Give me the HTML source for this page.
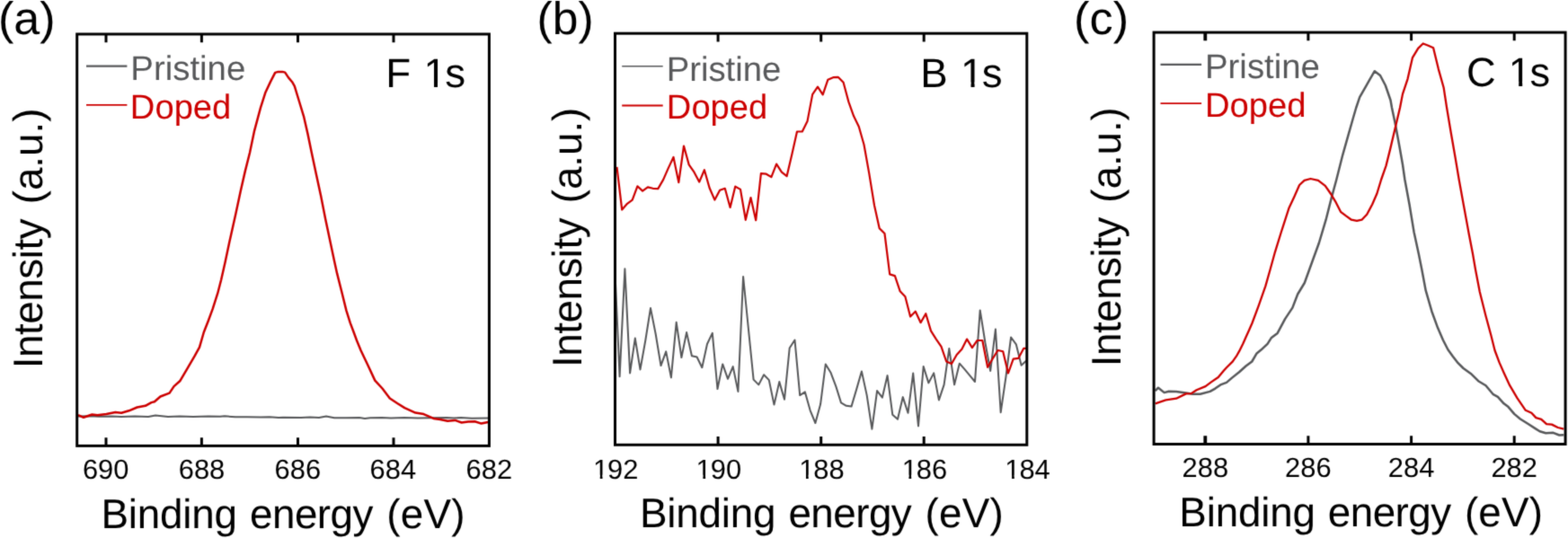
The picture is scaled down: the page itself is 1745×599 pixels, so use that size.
<!DOCTYPE html>
<html lang="en">
<head>
<meta charset="utf-8">
<title>XPS spectra: F 1s, B 1s, C 1s</title>
<style>
html,body{margin:0;padding:0;background:#fff;}
body{width:1745px;height:599px;overflow:hidden;}
svg{display:block;font-family:"Liberation Sans",Arial,Helvetica,sans-serif;text-rendering:geometricPrecision;}
.frame{fill:none;stroke:#000;}
.tick{stroke:#000;fill:none;}
.cv{fill:none;stroke-linejoin:round;stroke-linecap:butt;}
</style>
</head>
<body>
<svg width="1745" height="599" viewBox="0 0 1745 599">
<defs><filter id="soft" x="0" y="0" width="1745" height="599" filterUnits="userSpaceOnUse" color-interpolation-filters="sRGB"><feConvolveMatrix order="3" kernelMatrix="0.0192 0.1001 0.0192 0.1001 0.5228 0.1001 0.0192 0.1001 0.0192" divisor="1" bias="0" edgeMode="duplicate" preserveAlpha="true"/></filter></defs>
<rect x="0" y="0" width="1745" height="599" fill="#ffffff"/>
<g filter="url(#soft)">
<rect x="0" y="0" width="1745" height="599" fill="#ffffff"/>
<g id="panel-a">
<clipPath id="clip-a"><rect x="85.7" y="38.0" width="458.7" height="458.4"/></clipPath>
<g clip-path="url(#clip-a)">
<polyline class="cv" stroke="#57585a" stroke-width="2.00" points="87.0,463.5 100.0,463.3 110.0,463.8 125.0,463.4 135.0,464.0 150.0,463.6 165.0,463.9 173.0,462.5 180.0,463.2 187.0,464.0 200.0,463.6 215.0,464.0 232.0,463.4 245.0,463.8 250.0,463.3 262.0,464.3 275.0,464.3 290.0,464.6 300.0,464.3 310.0,464.9 315.0,464.8 335.0,465.0 345.0,464.5 355.0,464.9 363.0,463.6 372.0,465.3 385.0,465.3 400.0,465.1 406.0,466.0 412.0,465.3 425.0,465.1 435.0,465.5 450.0,465.0 465.0,465.5 480.0,465.3 497.0,465.0 505.0,465.6 513.0,465.0 525.0,465.8 543.0,465.6"/>
<polyline class="cv" stroke="#cc0000" stroke-width="2.50" points="87.0,462.2 93.0,464.8 102.5,461.5 108.4,462.3 118.4,461.0 128.4,459.0 135.1,459.8 143.5,457.3 152.6,453.5 161.8,451.8 168.5,448.1 171.9,447.3 178.5,441.5 188.6,437.6 193.6,430.1 200.2,424.3 208.6,410.1 216.9,395.9 222.0,386.7 226.8,370.0 231.6,357.7 236.7,343.9 242.2,326.7 246.2,311.3 250.5,292.3 255.2,270.0 262.2,238.8 267.7,213.0 272.8,190.6 278.0,170.0 283.1,145.6 290.0,119.9 295.5,102.7 301.2,90.6 306.2,80.9 309.6,79.9 314.4,79.9 317.2,80.6 321.0,86.4 325.1,91.2 327.8,95.8 333.0,113.0 338.2,130.2 342.5,149.1 346.8,170.0 351.9,194.1 357.1,218.1 362.2,243.9 367.7,270.0 371.7,288.9 375.1,304.4 380.3,325.0 385.4,345.6 389.7,359.4 393.7,370.0 397.1,379.2 401.6,390.2 409.0,405.8 417.3,423.6 425.5,432.5 433.8,443.5 442.1,449.0 450.3,454.1 462.3,459.6 471.5,461.1 482.5,465.9 489.8,467.0 498.1,468.8 506.4,467.9 513.7,470.5 521.0,469.6 528.4,469.2 535.7,471.6 543.1,470.1"/>
</g>
<path class="tick" stroke-width="3.00" d="M118.0 38.0V47.2M118.0 496.4V487.2M224.4 38.0V47.2M224.4 496.4V487.2M331.5 38.0V47.2M331.5 496.4V487.2M438.0 38.0V47.2M438.0 496.4V487.2"/>
<rect class="frame" stroke-width="3.00" x="85.7" y="38.0" width="458.7" height="458.4"/>
<g class="tl" transform="translate(91.92 533) scale(1.0100 1)"><text font-size="30.6" x="0" y="0">690</text></g>
<g class="tl" transform="translate(198.72 533) scale(1.0100 1)"><text font-size="30.6" x="0" y="0">688</text></g>
<g class="tl" transform="translate(305.62 533) scale(1.0100 1)"><text font-size="30.6" x="0" y="0">686</text></g>
<g class="tl" transform="translate(411.62 533) scale(1.0100 1)"><text font-size="30.6" x="0" y="0">684</text></g>
<g class="tl" transform="translate(518.62 533) scale(1.0100 1)"><text font-size="30.6" x="0" y="0">682</text></g>
<g class="ax" transform="translate(112.44 587.85) scale(0.9962 1)"><text font-size="46" x="0" y="0" xml:space="preserve"><tspan x="0" letter-spacing="-0.201">Binding </tspan><tspan x="166.23" letter-spacing="-0.542">energy </tspan><tspan x="319.06" letter-spacing="0.201">(eV)</tspan></text></g>
<g class="ax" transform="translate(47.2 406.1) rotate(-90) translate(-4.22 0) scale(0.9942 1)"><text font-size="46" x="0" y="0" xml:space="preserve"><tspan x="0" letter-spacing="-0.427">Intensity </tspan><tspan x="184.09" letter-spacing="0.000">(a.u.)</tspan></text></g>
<g class="pl" transform="translate(-2.03 38) scale(1.0213 1)"><text font-size="51" x="0" y="0">(a)</text></g>
<g class="tt" transform="translate(429.25 97.4) scale(1.0047 1)"><clipPath id="one-1"><path clip-rule="evenodd" d="M-400 -200H1200V200H-400ZM43.49 -5.4H53.47V3H43.49ZM57.49 -5.4H67.11V3H57.49Z"/></clipPath><text clip-path="url(#one-1)" font-size="45.5" x="0" y="0">F <tspan dx="1.59">1</tspan><tspan dx="-1.59">s</tspan></text></g>
<g class="lg" transform="translate(145.35 88.7) scale(1.0045 1)"><text fill="#57585a" font-size="38.2" x="0" y="0">Pristine</text></g>
<g class="lg" transform="translate(144.87 131.9) scale(0.9993 1)"><text fill="#cc0000" font-size="38.2" x="0" y="0">Doped</text></g>
<line x1="96.0" y1="73.6" x2="141.4" y2="73.6" stroke="#57585a" stroke-width="2.20"/>
<line x1="96.0" y1="116.8" x2="141.4" y2="116.8" stroke="#cc0000" stroke-width="1.80"/>
</g>
<g id="panel-b">
<clipPath id="clip-b"><rect x="684.5" y="37.2" width="458.3" height="458.1"/></clipPath>
<g clip-path="url(#clip-b)">
<polyline class="cv" stroke="#57585a" stroke-width="2.00" points="683.9,290.0 689.6,419.2 695.4,299.2 701.1,415.4 706.8,376.6 712.5,411.4 718.3,379.0 724.0,343.1 729.7,372.0 735.5,407.1 741.2,391.4 746.9,420.4 752.7,358.8 758.4,398.0 764.1,370.1 769.9,396.2 775.6,397.5 781.3,409.2 787.0,383.0 792.8,370.9 798.5,433.1 804.2,405.4 810.0,421.8 815.7,408.1 821.4,435.9 827.1,308.0 832.9,366.0 838.6,422.6 844.3,428.4 850.1,417.2 855.8,423.1 861.5,450.6 867.3,425.1 873.0,444.7 878.7,387.5 884.5,378.5 890.2,440.1 895.9,436.4 901.6,456.8 907.4,471.0 913.1,450.1 918.8,405.4 924.6,415.1 930.3,430.1 936.0,448.4 941.8,451.8 947.5,452.6 953.2,433.4 958.9,413.4 964.7,440.1 970.4,477.7 976.1,435.1 981.9,442.6 987.6,418.1 993.3,461.8 999.0,466.8 1004.8,442.1 1010.5,459.8 1016.2,415.6 1022.0,474.3 1027.7,408.0 1033.4,426.4 1039.2,415.4 1044.9,445.4 1050.6,428.4 1056.3,388.1 1062.1,428.3 1067.8,404.7 1073.5,411.2 1079.3,418.1 1085.0,425.0 1090.7,345.4 1096.5,382.0 1102.2,413.0 1107.9,366.6 1113.7,459.2 1119.4,420.0 1125.1,375.5 1130.8,383.3 1136.6,406.7 1142.3,401.5"/>
<polyline class="cv" stroke="#cc0000" stroke-width="2.20" points="686.5,185.9 692.2,233.5 698.0,226.8 703.7,222.6 709.4,207.3 715.1,212.6 720.9,208.4 726.6,209.8 732.3,210.1 738.1,200.1 743.8,187.1 749.5,175.0 755.3,203.1 761.0,162.5 766.7,183.4 772.5,191.7 778.2,202.6 783.9,189.2 789.6,209.3 795.4,222.6 801.1,211.8 806.8,209.8 812.6,231.0 818.3,207.6 824.0,210.9 829.8,244.8 835.5,220.1 841.2,245.2 846.9,193.1 852.7,193.7 858.4,197.1 864.1,182.6 869.9,191.7 875.6,196.2 881.3,172.0 887.0,146.5 892.8,146.5 898.5,135.1 904.2,105.1 910.0,96.7 915.7,105.4 921.4,88.7 927.2,86.2 932.9,85.9 938.6,91.7 944.4,113.4 950.1,129.3 955.8,141.0 961.5,161.0 967.3,193.4 973.0,228.5 978.7,254.2 984.5,260.0 990.2,305.4 995.9,307.1 1001.7,324.3 1007.4,330.2 1013.1,352.5 1018.8,346.7 1024.6,359.2 1030.3,349.2 1036.0,368.4 1041.8,377.6 1047.5,385.9 1053.2,402.5 1059.0,405.0 1064.7,395.0 1070.4,388.8 1076.1,377.6 1081.9,387.1 1087.6,379.0 1093.3,379.0 1099.1,408.8 1104.8,399.2 1110.5,390.0 1116.2,391.3 1122.0,415.5 1127.7,399.6 1133.4,398.8 1139.2,387.9 1144.9,387.9"/>
</g>
<path class="tick" stroke-width="3.00" d="M799.1 37.2V46.4M799.1 495.3V486.1M913.7 37.2V46.4M913.7 495.3V486.1M1028.2 37.2V46.4M1028.2 495.3V486.1"/>
<rect class="frame" stroke-width="3.00" x="684.5" y="37.2" width="458.3" height="458.1"/>
<g class="tl" transform="translate(658.92 533) scale(1.0100 1)"><clipPath id="one-2"><path clip-rule="evenodd" d="M-400 -200H1200V200H-400ZM1.4 -4.29H8.77V3H1.4ZM11.47 -4.29H18.6V3H11.47Z"/></clipPath><text clip-path="url(#one-2)" font-size="30.6" x="0" y="0"><tspan dx="1.07">1</tspan><tspan dx="-1.07">92</tspan></text></g>
<g class="tl" transform="translate(773.52 533) scale(1.0100 1)"><clipPath id="one-3"><path clip-rule="evenodd" d="M-400 -200H1200V200H-400ZM1.4 -4.29H8.77V3H1.4ZM11.47 -4.29H18.6V3H11.47Z"/></clipPath><text clip-path="url(#one-3)" font-size="30.6" x="0" y="0"><tspan dx="1.07">1</tspan><tspan dx="-1.07">90</tspan></text></g>
<g class="tl" transform="translate(888.12 533) scale(1.0100 1)"><clipPath id="one-4"><path clip-rule="evenodd" d="M-400 -200H1200V200H-400ZM1.4 -4.29H8.77V3H1.4ZM11.47 -4.29H18.6V3H11.47Z"/></clipPath><text clip-path="url(#one-4)" font-size="30.6" x="0" y="0"><tspan dx="1.07">1</tspan><tspan dx="-1.07">88</tspan></text></g>
<g class="tl" transform="translate(1002.62 533) scale(1.0100 1)"><clipPath id="one-5"><path clip-rule="evenodd" d="M-400 -200H1200V200H-400ZM1.4 -4.29H8.77V3H1.4ZM11.47 -4.29H18.6V3H11.47Z"/></clipPath><text clip-path="url(#one-5)" font-size="30.6" x="0" y="0"><tspan dx="1.07">1</tspan><tspan dx="-1.07">86</tspan></text></g>
<g class="tl" transform="translate(1117.22 533) scale(1.0100 1)"><clipPath id="one-6"><path clip-rule="evenodd" d="M-400 -200H1200V200H-400ZM1.4 -4.29H8.77V3H1.4ZM11.47 -4.29H18.6V3H11.47Z"/></clipPath><text clip-path="url(#one-6)" font-size="30.6" x="0" y="0"><tspan dx="1.07">1</tspan><tspan dx="-1.07">84</tspan></text></g>
<g class="ax" transform="translate(711.89 587) scale(0.9957 1)"><text font-size="46" x="0" y="0" xml:space="preserve"><tspan x="0" letter-spacing="-0.201">Binding </tspan><tspan x="166.23" letter-spacing="-0.542">energy </tspan><tspan x="319.06" letter-spacing="0.201">(eV)</tspan></text></g>
<g class="ax" transform="translate(646.5 404.9) rotate(-90) translate(-4.22 0) scale(0.9931 1)"><text font-size="46" x="0" y="0" xml:space="preserve"><tspan x="0" letter-spacing="-0.428">Intensity </tspan><tspan x="184.09" letter-spacing="0.000">(a.u.)</tspan></text></g>
<g class="pl" transform="translate(597.6 38) scale(1.0106 1)"><text font-size="51" x="0" y="0">(b)</text></g>
<g class="tt" transform="translate(1024.36 96.8) scale(1.0027 1)"><clipPath id="one-7"><path clip-rule="evenodd" d="M-400 -200H1200V200H-400ZM46.05 -5.4H56.02V3H46.05ZM60.04 -5.4H69.67V3H60.04Z"/></clipPath><text clip-path="url(#one-7)" font-size="45.5" x="0" y="0">B <tspan dx="1.59">1</tspan><tspan dx="-1.59">s</tspan></text></g>
<g class="lg" transform="translate(741.66 89.8) scale(1.0021 1)"><text fill="#57585a" font-size="38.2" x="0" y="0">Pristine</text></g>
<g class="lg" transform="translate(741.87 131.9) scale(0.9975 1)"><text fill="#cc0000" font-size="38.2" x="0" y="0">Doped</text></g>
<line x1="692.2" y1="73.7" x2="737.7" y2="73.7" stroke="#57585a" stroke-width="1.60"/>
<line x1="692.2" y1="117.5" x2="737.7" y2="117.5" stroke="#cc0000" stroke-width="2.10"/>
</g>
<g id="panel-c">
<clipPath id="clip-c"><rect x="1284.1" y="36.1" width="458.0" height="458.4"/></clipPath>
<g clip-path="url(#clip-c)">
<polyline class="cv" stroke="#57585a" stroke-width="2.50" points="1285.7,435.1 1289.0,431.7 1295.7,437.1 1300.7,435.7 1309.0,435.9 1319.9,437.6 1327.4,438.7 1335.7,438.7 1346.6,435.9 1352.4,432.6 1358.3,428.4 1365.0,425.9 1370.8,420.9 1379.1,414.2 1386.6,407.5 1393.3,402.5 1398.6,393.4 1403.4,389.6 1410.6,382.8 1415.0,375.9 1421.7,370.9 1430.1,355.1 1438.4,342.6 1444.2,327.5 1451.8,315.0 1457.2,300.0 1467.9,270.5 1475.6,244.7 1481.7,220.6 1487.3,200.0 1494.3,172.3 1500.5,150.3 1506.0,131.0 1509.2,120.0 1513.2,108.1 1519.1,97.8 1524.6,88.1 1529.8,79.2 1536.0,84.0 1541.8,95.0 1547.5,111.5 1549.0,120.0 1552.8,137.9 1557.6,164.0 1561.0,183.3 1563.4,200.0 1568.5,227.5 1573.6,258.5 1578.8,282.5 1582.3,300.0 1586.7,323.4 1593.4,346.7 1600.1,365.1 1605.9,378.5 1611.4,389.3 1616.8,396.7 1622.6,404.2 1628.5,410.0 1636.8,415.9 1645.2,424.2 1653.5,429.2 1661.9,439.2 1666.9,441.8 1673.6,449.3 1678.6,453.1 1685.2,460.9 1691.9,466.5 1700.3,471.8 1708.6,477.1 1713.6,480.2 1720.3,482.2 1728.6,481.8 1735.3,484.5 1740.3,484.3"/>
<polyline class="cv" stroke="#cc0000" stroke-width="2.30" points="1285.7,449.3 1297.4,445.4 1309.0,443.7 1319.9,438.4 1325.7,438.1 1331.6,434.2 1341.6,430.1 1348.3,425.1 1355.8,420.0 1361.6,413.0 1365.0,409.2 1371.7,402.6 1375.9,396.7 1379.2,390.9 1383.4,382.5 1386.7,375.0 1390.1,367.5 1393.4,360.0 1400.8,340.1 1408.4,318.4 1413.6,300.0 1418.9,280.8 1425.8,258.5 1434.4,231.8 1440.4,218.9 1446.1,206.0 1451.6,200.9 1458.5,199.0 1467.0,200.9 1474.8,206.9 1480.8,215.5 1486.0,224.1 1492.0,235.8 1498.0,240.4 1504.0,244.7 1510.0,245.9 1515.5,244.7 1521.2,238.7 1527.2,227.5 1532.4,215.5 1537.1,200.0 1542.5,184.6 1547.3,165.4 1552.8,142.0 1558.0,120.0 1561.0,104.6 1566.5,88.1 1572.0,64.1 1578.2,53.8 1583.7,48.5 1589.5,50.8 1595.1,53.3 1600.9,77.1 1606.7,97.8 1610.1,120.0 1614.7,147.5 1619.5,175.0 1623.7,200.0 1628.7,227.5 1634.7,260.2 1639.0,282.5 1642.0,300.0 1646.8,325.0 1653.5,351.8 1659.4,373.5 1663.5,390.0 1668.5,403.4 1673.6,415.0 1680.2,429.2 1688.6,443.4 1697.8,456.8 1704.4,459.8 1709.4,465.1 1715.3,466.8 1721.1,472.1 1727.0,472.6 1733.7,476.0 1740.3,477.6"/>
</g>
<path class="tick" stroke-width="3.80" d="M1341.3 36.1V45.3M1341.3 494.5V485.3"/>
<path class="tick" stroke-width="3.00" d="M1455.9 36.1V45.3M1455.9 494.5V485.3M1570.6 36.1V45.3M1570.6 494.5V485.3M1685.2 36.1V45.3M1685.2 494.5V485.3"/>
<rect class="frame" stroke-width="3.00" x="1284.1" y="36.1" width="458.0" height="458.4"/>
<g class="tl" transform="translate(1315.52 531) scale(1.0100 1)"><text font-size="30.6" x="0" y="0">288</text></g>
<g class="tl" transform="translate(1430.12 531) scale(1.0100 1)"><text font-size="30.6" x="0" y="0">286</text></g>
<g class="tl" transform="translate(1544.82 531) scale(1.0100 1)"><text font-size="30.6" x="0" y="0">284</text></g>
<g class="tl" transform="translate(1659.42 531) scale(1.0100 1)"><text font-size="30.6" x="0" y="0">282</text></g>
<g class="ax" transform="translate(1312.34 586) scale(0.9954 1)"><text font-size="46" x="0" y="0" xml:space="preserve"><tspan x="0" letter-spacing="-0.201">Binding </tspan><tspan x="166.23" letter-spacing="-0.542">energy </tspan><tspan x="319.06" letter-spacing="0.201">(eV)</tspan></text></g>
<g class="ax" transform="translate(1246.5 404) rotate(-90) translate(-4.21 0) scale(0.9917 1)"><text font-size="46" x="0" y="0" xml:space="preserve"><tspan x="0" letter-spacing="-0.429">Intensity </tspan><tspan x="184.09" letter-spacing="0.000">(a.u.)</tspan></text></g>
<g class="pl" transform="translate(1195.06 38) scale(1.0256 1)"><text font-size="51" x="0" y="0">(c)</text></g>
<g class="tt" transform="translate(1632 96.2) scale(0.9944 1)"><clipPath id="one-8"><path clip-rule="evenodd" d="M-400 -200H1200V200H-400ZM48.56 -5.4H58.53V3H48.56ZM62.56 -5.4H72.18V3H62.56Z"/></clipPath><text clip-path="url(#one-8)" font-size="45.5" x="0" y="0">C <tspan dx="1.59">1</tspan><tspan dx="-1.59">s</tspan></text></g>
<g class="lg" transform="translate(1341 87) scale(1.0045 1)"><text fill="#57585a" font-size="38.2" x="0" y="0">Pristine</text></g>
<g class="lg" transform="translate(1341.02 130) scale(1.0003 1)"><text fill="#cc0000" font-size="38.2" x="0" y="0">Doped</text></g>
<line x1="1291.5" y1="71.9" x2="1337.1" y2="71.9" stroke="#57585a" stroke-width="2.20"/>
<line x1="1291.5" y1="115.2" x2="1337.1" y2="115.2" stroke="#cc0000" stroke-width="1.80"/>
</g>
</g>
</svg>
</body>
</html>
